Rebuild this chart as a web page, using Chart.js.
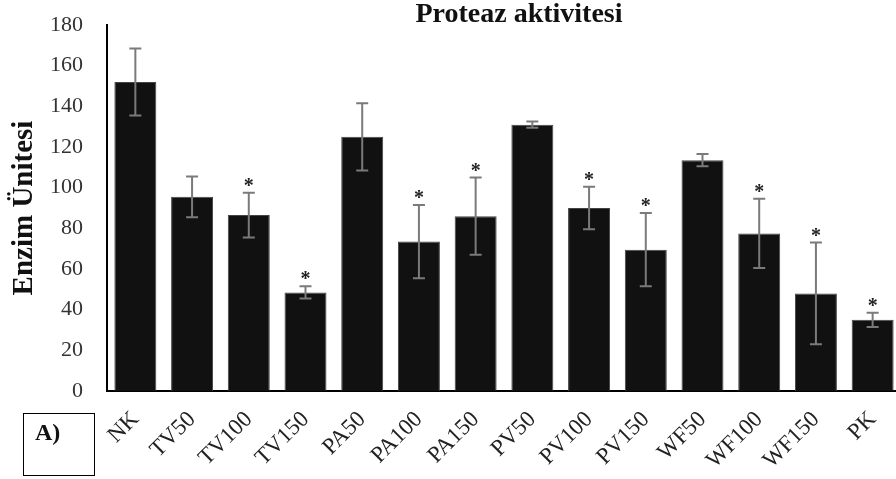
<!DOCTYPE html>
<html>
<head>
<meta charset="utf-8">
<script src="https://cdn.jsdelivr.net/npm/chart.js@4/dist/chart.umd.min.js"></script>
<style>
  html, body { margin: 0; padding: 0; background: #fff; }
  #wrap { position: relative; width: 896px; height: 479px; overflow: hidden; }
  #c { position: absolute; left: 0; top: 0; }
  #boxA { position: absolute; left: 23px; top: 413px; width: 72px; height: 63px; box-sizing: border-box; border: 1.5px solid #000; }
  #boxA span { position: absolute; left: 11px; top: 6px; font: bold 24px "Liberation Serif", "Times New Roman", serif; line-height: 24px; color: #111; }
</style>
</head>
<body>
<div id="wrap">
  <canvas id="c" width="901" height="479"></canvas>
  <div id="boxA"><span>A)</span></div>
</div>
<script>
const categories = ['NK','TV50','TV100','TV150','PA50','PA100','PA150','PV50','PV100','PV150','WF50','WF100','WF150','PK'];
const means  = [152, 95.5, 86.5, 48.5, 125, 73.5, 86, 131, 90, 69.5, 113.5, 77.5, 48, 35];
const errors = [16.5, 10, 11, 3, 16.5, 18, 19, 1.5, 10.5, 18, 3, 17, 25, 3.5];
const significant = [false, false, true, true, false, true, true, false, true, true, false, true, true, true];
const titleText = 'Proteaz aktivitesi';
const yTitle = 'Enzim Ünitesi';
const yTicks = [0, 20, 40, 60, 80, 100, 120, 140, 160, 180];

const SERIF = '"Liberation Serif", "Times New Roman", serif';

const errorBarPlugin = {
  id: 'errorBars',
  afterDatasetsDraw(chart) {
    const ctx = chart.ctx;
    const meta = chart.getDatasetMeta(0);
    const y = chart.scales.y;
    ctx.save();
    meta.data.forEach((bar, i) => {
      const x = bar.x;
      const yTop = y.getPixelForValue(means[i] + errors[i]);
      const yBot = y.getPixelForValue(means[i] - errors[i]);
      ctx.strokeStyle = '#7a7a7a';
      ctx.lineWidth = 2;
      ctx.beginPath();
      ctx.moveTo(x, yTop); ctx.lineTo(x, yBot);
      ctx.moveTo(x - 6, yTop); ctx.lineTo(x + 6, yTop);
      ctx.moveTo(x - 6, yBot); ctx.lineTo(x + 6, yBot);
      ctx.stroke();
      if (significant[i]) {
        ctx.fillStyle = '#222';
        ctx.font = 'bold 20px ' + SERIF;
        ctx.textAlign = 'center';
        ctx.textBaseline = 'alphabetic';
        ctx.fillText('*', x, yTop - 1);
      }
    });
    ctx.restore();
  }
};

const titlePlugin = {
  id: 'fixedTitle',
  afterDraw(chart) {
    const ctx = chart.ctx;
    const ca = chart.chartArea;
    ctx.save();
    ctx.fillStyle = '#111';
    ctx.font = 'bold 28px ' + SERIF;
    ctx.textAlign = 'center';
    ctx.textBaseline = 'alphabetic';
    ctx.fillText(titleText, (ca.left + ca.right) / 2 + 15, 21.5);
    ctx.restore();
  }
};

new Chart(document.getElementById('c'), {
  type: 'bar',
  data: {
    labels: categories,
    datasets: [{
      data: means,
      backgroundColor: '#111111',
      borderColor: '#444444',
      borderWidth: 1,
      barPercentage: 0.74,
      categoryPercentage: 1.0
    }]
  },
  options: {
    responsive: false,
    animation: false,
    devicePixelRatio: 1,
    layout: { padding: { top: 25, right: 0, left: 0, bottom: 0 } },
    plugins: { legend: { display: false }, title: { display: false }, tooltip: { enabled: false } },
    scales: {
      x: {
        grid: { display: false, drawTicks: false },
        border: { display: true, color: '#000', width: 2 },
        ticks: {
          autoSkip: false, minRotation: 45, maxRotation: 45, padding: 15,
          color: '#222', font: { family: SERIF, size: 23 }
        },
        afterFit(scale) { scale.height = 88; scale.paddingLeft = 0; scale.paddingRight = 0; }
      },
      y: {
        min: 0, max: 180,
        afterBuildTicks(scale) { scale.ticks = yTicks.map(v => ({ value: v })); },
        grid: { display: false, drawTicks: false },
        border: { display: true, color: '#000', width: 2 },
        ticks: { padding: 24, color: '#333', font: { family: SERIF, size: 22 } },
        title: {
          display: true, text: yTitle, color: '#111',
          font: { family: SERIF, size: 29, weight: 'bold' },
          padding: { top: 7, bottom: 0 }
        },
        afterFit(scale) { scale.width = 107; scale.paddingTop = 0; scale.paddingBottom = 0; }
      }
    }
  },
  plugins: [errorBarPlugin, titlePlugin]
});
</script>
</body>
</html>
